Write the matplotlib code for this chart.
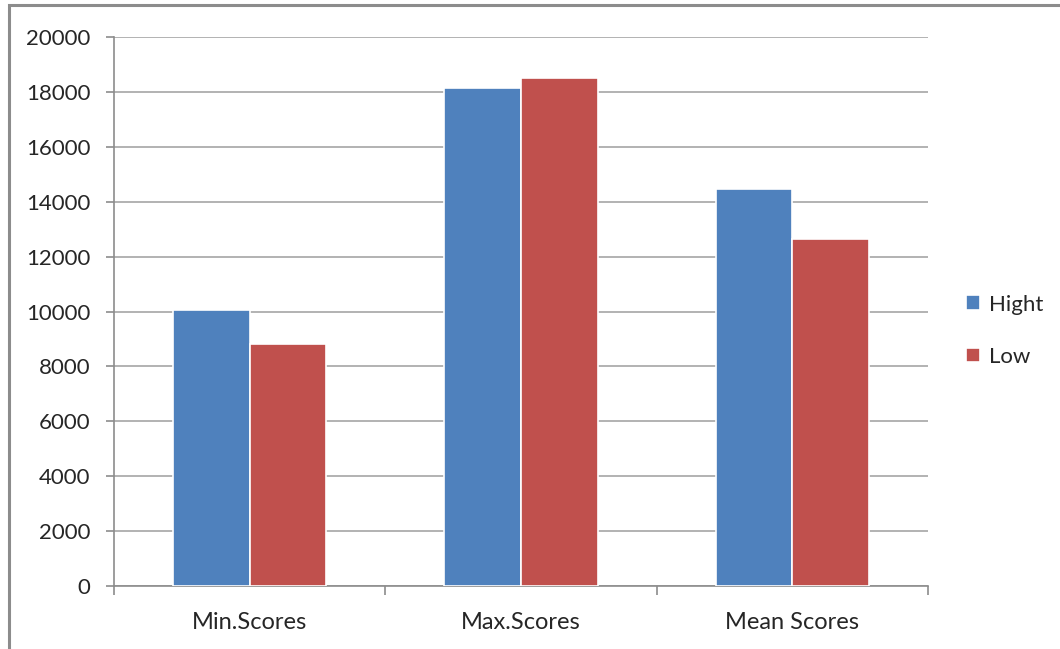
import matplotlib
matplotlib.use("Agg")
import matplotlib.pyplot as plt
import numpy as np
from matplotlib.patches import Rectangle

categories = ["Min.Scores", "Max.Scores", "Mean Scores"]
hight = [10050, 18150, 14450]
low = [8800, 18500, 12650]
yticks = [0, 2000, 4000, 6000, 8000, 10000, 12000, 14000, 16000, 18000, 20000]

plt.rcParams['font.family'] = ['Lato', 'DejaVu Sans']

fig = plt.figure(figsize=(10.6, 6.49), dpi=100)
fig.patch.set_facecolor('white')
# outer frame
fig.add_artist(Rectangle((9/1060, -0.01), 1.2, 1 - 5/649 + 0.01, transform=fig.transFigure,
                         fill=False, edgecolor='#8c8c8c', linewidth=2.2))

ax = fig.add_axes([114/1060, 1 - 586/649, (928 - 114)/1060, (586 - 37)/649])
x = np.arange(len(categories))
w = 0.283
ax.bar(x - w/2, hight, w, color='#4F81BD', edgecolor='white', linewidth=1.2, label='Hight', zorder=3)
ax.bar(x + w/2, low, w, color='#C0504D', edgecolor='white', linewidth=1.2, label='Low', zorder=3)

ax.set_xlim(-0.5, 2.5)
ax.set_ylim(0, 20000)
ax.set_yticks(yticks)
ax.set_yticklabels([str(v) for v in yticks])
ax.yaxis.grid(True, color='#a6a6a6', linewidth=1.2, zorder=0)
ax.set_axisbelow(True)

ax.set_xticks([-0.5, 0.5, 1.5, 2.5], minor=False)
ax.set_xticklabels([])
ax.set_xticks(x, minor=True)
ax.set_xticklabels(categories, minor=True)
ax.tick_params(axis='x', which='minor', length=0, pad=19, labelsize=17, labelcolor='#262626')
ax.tick_params(axis='x', which='major', length=6.5, width=1.2, color='#8c8c8c', direction='out')
ax.tick_params(axis='y', length=6, width=1.2, color='#8c8c8c', labelsize=16, labelcolor='#262626', pad=11)

for s in ['top', 'right']:
    ax.spines[s].set_visible(False)
for s in ['left', 'bottom']:
    ax.spines[s].set_color('#8c8c8c')
    ax.spines[s].set_linewidth(1.2)

ax.legend(loc='center left', bbox_to_anchor=(1.022, 0.465), frameon=False,
          fontsize=16, handlelength=0.65, handleheight=0.65, handletextpad=0.4,
          labelspacing=1.45, labelcolor='#262626')

fig.savefig('out.png', dpi=100, facecolor='white')
